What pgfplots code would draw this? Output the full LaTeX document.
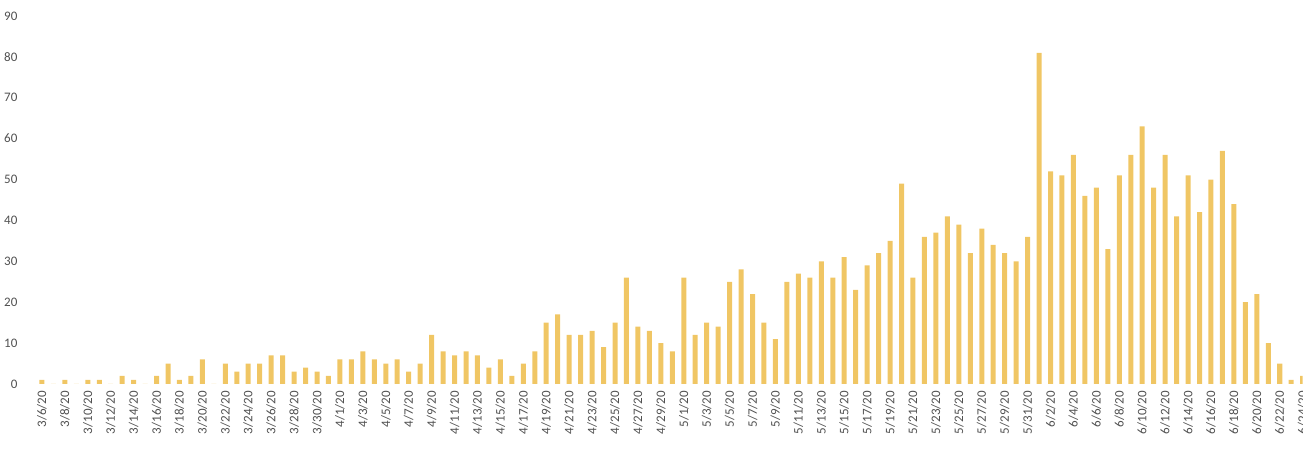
\documentclass[border=0pt]{standalone}
\usepackage{fontspec}
\setmainfont{Carlito}
\usepackage{pgfplots}
\usepackage{pgfplotstable}
\pgfplotsset{compat=1.18}

\definecolor{barfill}{RGB}{240,198,100}
\definecolor{ticktext}{RGB}{80,80,80}

% day index (0 = 3/6/20) and daily count
\pgfplotstableread{
x y
0 1
1 0
2 1
3 0
4 1
5 1
6 0
7 2
8 1
9 0
10 2
11 5
12 1
13 2
14 6
15 0
16 5
17 3
18 5
19 5
20 7
21 7
22 3
23 4
24 3
25 2
26 6
27 6
28 8
29 6
30 5
31 6
32 3
33 5
34 12
35 8
36 7
37 8
38 7
39 4
40 6
41 2
42 5
43 8
44 15
45 17
46 12
47 12
48 13
49 9
50 15
51 26
52 14
53 13
54 10
55 8
56 26
57 12
58 15
59 14
60 25
61 28
62 22
63 15
64 11
65 25
66 27
67 26
68 30
69 26
70 31
71 23
72 29
73 32
74 35
75 49
76 26
77 36
78 37
79 41
80 39
81 32
82 38
83 34
84 32
85 30
86 36
87 81
88 52
89 51
90 56
91 46
92 48
93 33
94 51
95 56
96 63
97 48
98 56
99 41
100 51
101 42
102 50
103 57
104 44
105 20
106 22
107 10
108 5
109 1
110 2
}\daily

\begin{document}
\begin{tikzpicture}
\begin{axis}[
    scale only axis,
    width=636pt, height=184pt,
    xmin=-1, xmax=110,
    ymin=0, ymax=90,
    ybar, bar width=2.5pt,
    axis line style={draw=none},
    major tick length=0pt,
    ytick={0,10,...,90},
    xtick={0,2,...,110},
    xticklabels={3/6/20,3/8/20,3/10/20,3/12/20,3/14/20,3/16/20,3/18/20,3/20/20,3/22/20,3/24/20,3/26/20,3/28/20,3/30/20,
                 4/1/20,4/3/20,4/5/20,4/7/20,4/9/20,4/11/20,4/13/20,4/15/20,4/17/20,4/19/20,4/21/20,4/23/20,4/25/20,4/27/20,4/29/20,
                 5/1/20,5/3/20,5/5/20,5/7/20,5/9/20,5/11/20,5/13/20,5/15/20,5/17/20,5/19/20,5/21/20,5/23/20,5/25/20,5/27/20,5/29/20,5/31/20,
                 6/2/20,6/4/20,6/6/20,6/8/20,6/10/20,6/12/20,6/14/20,6/16/20,6/18/20,6/20/20,6/22/20,6/24/20},
    /pgf/number format/assume math mode=true,
    ticklabel style={font=\fontsize{6.5}{7}\selectfont, text=ticktext},
    yticklabel style={xshift=-3pt},
    xticklabel style={rotate=90, anchor=east},
]
\addplot[fill=barfill, draw=none] table[x=x, y=y] {\daily};
\coordinate (bbsw) at (axis cs:-3.66,-16.6);
\coordinate (bbne) at (axis cs:110.03,93.9);
\end{axis}
\pgfresetboundingbox
\path[use as bounding box] (bbsw) rectangle (bbne);
\end{tikzpicture}
\end{document}
